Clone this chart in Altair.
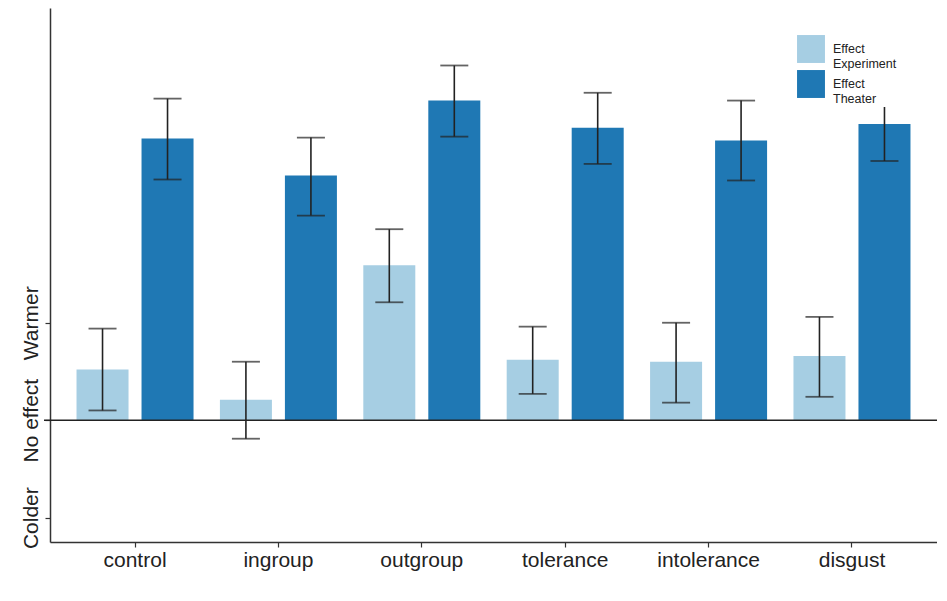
import altair as alt
import pandas as pd

categories = ["control", "ingroup", "outgroup", "tolerance", "intolerance", "disgust"]
series = ["Effect Experiment", "Effect Theater"]
exp_mean = [0.52, 0.21, 1.59, 0.62, 0.60, 0.66]
exp_lo = [0.10, -0.19, 1.21, 0.27, 0.18, 0.24]
exp_hi = [0.94, 0.60, 1.96, 0.96, 1.00, 1.06]
th_mean = [2.89, 2.51, 3.28, 3.00, 2.87, 3.04]
th_lo = [2.47, 2.10, 2.91, 2.63, 2.46, 2.66]
th_hi = [3.30, 2.90, 3.64, 3.36, 3.28, 3.26]
tick_values = [-1, 0, 1]
tick_labels = ["Colder", "No effect", "Warmer"]

rows = []
for i, c in enumerate(categories):
    rows.append({"cat": c, "series": series[0], "mean": exp_mean[i], "lo": exp_lo[i], "hi": exp_hi[i]})
    rows.append({"cat": c, "series": series[1], "mean": th_mean[i], "lo": th_lo[i], "hi": th_hi[i]})
df = pd.DataFrame(rows)

label_expr = ("datum.value == -1 ? '%s' : datum.value == 0 ? '%s' : "
              "datum.value == 1 ? '%s' : ''") % tuple(tick_labels)

x_enc = alt.X("cat:N", sort=categories, title=None,
              scale=alt.Scale(paddingInner=0.184, paddingOuter=0.185),
              axis=alt.Axis(labelAngle=0, labelFontSize=21, labelColor="#222",
                            labelFont="Liberation Sans", domainColor="#333",
                            domainWidth=1.5, tickColor="#333", tickWidth=1.2,
                            tickSize=5, labelPadding=2))
xoff = alt.XOffset("series:N", sort=series, scale=alt.Scale(paddingInner=0.2))
y_scale = alt.Scale(domain=[-1.25, 4.23], nice=False, zero=False)

bars = alt.Chart(df).mark_bar().encode(
    x=x_enc,
    xOffset=xoff,
    y=alt.Y("mean:Q", scale=y_scale, title=None,
            axis=alt.Axis(values=tick_values, labelExpr=label_expr, labelAngle=270,
                          labelAlign="center", labelBaseline="bottom", labelFontSize=21,
                          labelFont="Liberation Sans", labelColor="#222", grid=False,
                          domainColor="#333", domainWidth=1.5, tickColor="#333",
                          tickWidth=1.2, tickSize=5, labelPadding=4)),
    y2=alt.datum(0),
    color=alt.Color("series:N", sort=series,
                    scale=alt.Scale(domain=series, range=["#a6cee3", "#1f78b4"]),
                    legend=alt.Legend(title=None, orient="none", legendX=745, legendY=25,
                                      symbolType="square", symbolSize=780,
                                      symbolStrokeWidth=0, rowPadding=0, padding=2,
                                      fillColor="white",
                                      labelFont="Liberation Sans", labelFontSize=12.5,
                                      labelColor="#222", labelExpr="split(datum.label, ' ')",
                                      labelOffset=8)),
)

rules = alt.Chart(df).mark_rule(color="#222", strokeWidth=1.6).encode(
    x=alt.X("cat:N", sort=categories),
    xOffset=xoff,
    y=alt.Y("lo:Q", scale=y_scale),
    y2="hi:Q",
)
cap_lo = alt.Chart(df).mark_tick(color="#222", thickness=1.8, size=28).encode(
    x=alt.X("cat:N", sort=categories),
    xOffset=xoff,
    y=alt.Y("lo:Q", scale=y_scale),
)
cap_hi = alt.Chart(df).mark_tick(color="#222", thickness=1.8, size=28).encode(
    x=alt.X("cat:N", sort=categories),
    xOffset=xoff,
    y=alt.Y("hi:Q", scale=y_scale),
)
zero = alt.Chart(pd.DataFrame({"z": [0]})).mark_rule(color="#222", strokeWidth=1.5).encode(
    y=alt.Y("z:Q", scale=y_scale),
    x=alt.value(-6),
    x2=alt.value(887),
)

chart = alt.layer(bars, rules, cap_lo, cap_hi, zero).properties(
    width=887, height=534,
    autosize=alt.AutoSizeParams(type="none"),
    padding={"left": 42, "top": 0, "right": 0, "bottom": 45},
).configure_view(stroke=None)

chart.save("out.html", embed_options={"renderer": "svg", "actions": False})
